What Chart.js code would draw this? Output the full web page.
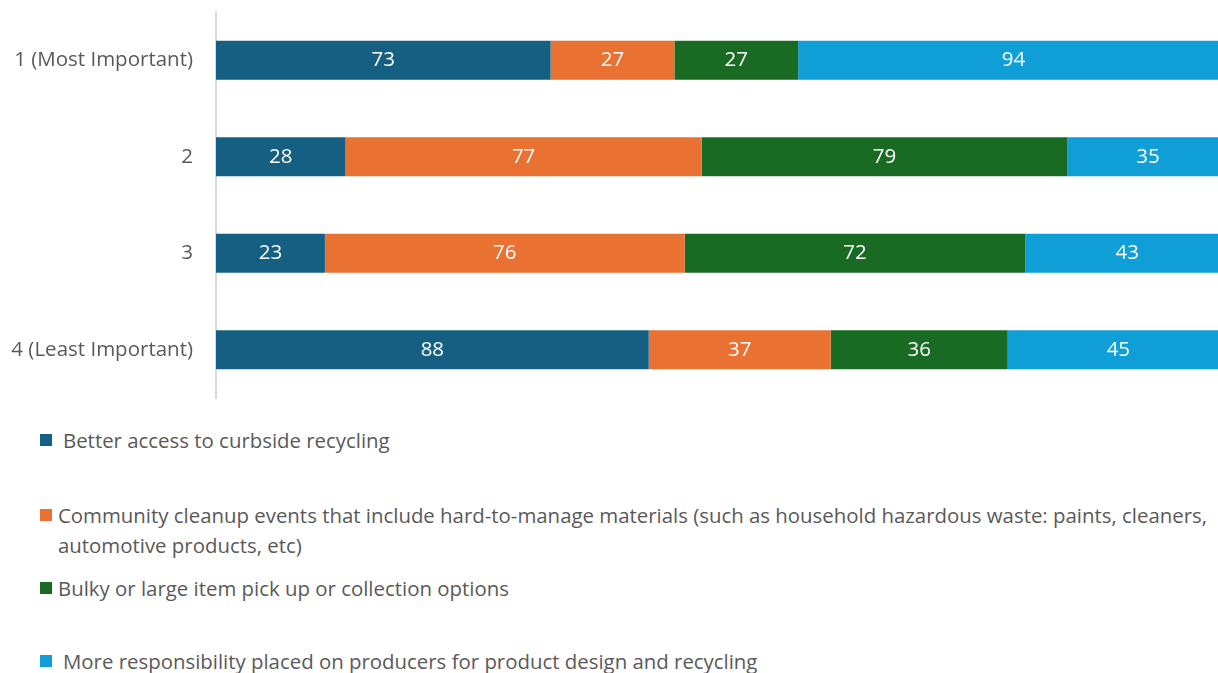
<!DOCTYPE html>
<html>
<head>
<meta charset="utf-8">
<script src="https://cdn.jsdelivr.net/npm/chart.js@4/dist/chart.umd.min.js"></script>
<style>
  html, body { margin: 0; padding: 0; background: #fff; overflow: hidden; }
  #wrap { position: relative; width: 1218px; height: 673px; overflow: hidden; }
  #c { position: absolute; left: 0; top: 0; }
  .leg { position: absolute; font-family: "Open Sans", Roboto, sans-serif; font-size: 20.4px; color: #595959; line-height: 30px; white-space: nowrap; }
  .sw { position: absolute; width: 12px; height: 12px; }
</style>
</head>
<body>
<div id="wrap">
  <canvas id="c" width="1229" height="400"></canvas>
  <div id="legend"></div>
</div>
<script>
// Ranking categories (rows)
const categories = ["1 (Most Important)", "2", "3", "4 (Least Important)"];

// Response counts per option, one value per ranking row
const curbside   = [73, 28, 23, 88];
const cleanup    = [27, 77, 76, 37];
const bulky      = [27, 79, 72, 36];
const producers  = [94, 35, 43, 45];

const seriesNames = [
  "Better access to curbside recycling",
  "Community cleanup events that include hard-to-manage materials (such as household hazardous waste: paints, cleaners,\nautomotive products, etc)",
  "Bulky or large item pick up or collection options",
  "More responsibility placed on producers for product design and recycling"
];
const seriesColors = ["#156082", "#E97132", "#196B24", "#0F9ED5"];
const seriesValues = [curbside, cleanup, bulky, producers];

const FONT = '"Open Sans", Roboto, sans-serif';

// Row totals for the 100% stacked layout
const totals = categories.map((_, i) => seriesValues.reduce((s, arr) => s + arr[i], 0));

const datasets = seriesValues.map((vals, k) => ({
  label: seriesNames[k].replace('\n', ' '),
  counts: vals,
  data: vals.map((v, i) => v / totals[i] * 100),
  backgroundColor: seriesColors[k],
  borderWidth: 0,
  categoryPercentage: 1,
  barPercentage: 0.404
}));

// Draws each segment's count in the middle of the segment
const segmentLabels = {
  id: 'segmentLabels',
  afterDatasetsDraw(chart) {
    const ctx = chart.ctx;
    ctx.save();
    ctx.font = '20.5px ' + FONT;
    ctx.fillStyle = '#ffffff';
    ctx.textAlign = 'center';
    ctx.textBaseline = 'middle';
    chart.data.datasets.forEach((ds, di) => {
      const meta = chart.getDatasetMeta(di);
      meta.data.forEach((bar, i) => {
        const cx = (bar.x + bar.base) / 2;
        ctx.fillText(String(ds.counts[i]), cx, bar.y);
      });
    });
    ctx.restore();
  }
};

new Chart(document.getElementById('c'), {
  type: 'bar',
  data: { labels: categories, datasets },
  options: {
    indexAxis: 'y',
    responsive: false,
    animation: false,
    layout: { padding: { top: 12, bottom: 2, left: 0, right: 0 } },
    plugins: { legend: { display: false }, tooltip: { enabled: false } },
    scales: {
      x: {
        stacked: true, min: 0, max: 100, display: false
      },
      y: {
        stacked: true,
        grid: { display: false, drawTicks: false },
        border: { display: true, color: '#D9D9D9', width: 2 },
        ticks: {
          color: '#595959',
          padding: 23,
          font: { family: FONT, size: 20.5 }
        },
        afterFit(scale) {
          scale.width = 216;
          scale.paddingTop = 0;
          scale.paddingBottom = 0;
        }
      }
    }
  },
  plugins: [segmentLabels]
});

// Legend below the plot
const legendPos = [
  { sy: 434, ty: 425, tx: 63 },
  { sy: 509, ty: 500, tx: 58 },
  { sy: 582, ty: 573, tx: 58 },
  { sy: 655, ty: 646, tx: 63 }
];
const legend = document.getElementById('legend');
seriesNames.forEach((name, k) => {
  const p = legendPos[k];
  const sw = document.createElement('div');
  sw.className = 'sw';
  sw.style.left = '40px';
  sw.style.top = p.sy + 'px';
  sw.style.background = seriesColors[k];
  legend.appendChild(sw);
  name.split('\n').forEach((line, j) => {
    const t = document.createElement('div');
    t.className = 'leg';
    t.style.left = p.tx + 'px';
    t.style.top = (p.ty + j * 30) + 'px';
    t.textContent = line;
    legend.appendChild(t);
  });
});
</script>
</body>
</html>
